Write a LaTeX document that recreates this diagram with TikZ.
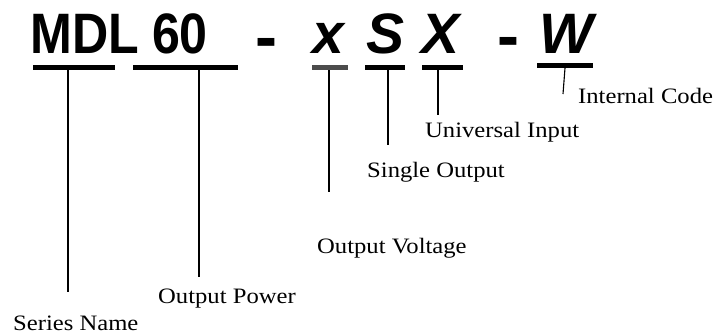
\documentclass[tikz,border=0pt]{standalone}
\usepackage{fontspec}
\setmainfont{Liberation Serif}
\newfontfamily\lblfont[FakeStretch=1.12]{Liberation Serif}
\newfontfamily\hdfont[FakeStretch=0.88]{Liberation Sans}
\newfontfamily\hdbi{Liberation Sans}
\begin{document}
\begin{tikzpicture}[x=1pt,y=-1pt,
  code/.style={anchor=base,inner sep=0pt,font=\hdfont\fontsize{57}{57}\selectfont\bfseries},
  codebi/.style={anchor=base,inner sep=0pt,font=\hdbi\fontsize{57}{57}\selectfont\bfseries\itshape},
  dashc/.style={anchor=base,inner sep=0pt,font=\hdbi\fontsize{66}{66}\selectfont\bfseries},
  bar/.style={fill=black,draw=none},
  lead/.style={line width=1.1pt},
  lbl/.style={anchor=base west,inner sep=0pt,font=\lblfont\fontsize{22}{22}\selectfont}]
\useasboundingbox (0,0) rectangle (727,335);
% code characters
\node[code] (mdl) at (85,53) {MDL};
\node[code] (sixty) at (180,53) {60};
\node[dashc] (d1) at (266.5,59) {-};
\node[codebi] (x) at (328,53) {x};
\node[codebi] (s) at (386,53) {S};
\node[codebi] (bx) at (441,53) {X};
\node[dashc] (d2) at (508.5,58) {-};
\node[codebi] (w) at (566,53) {W};
% underlines
\fill[bar] (33,65) rectangle (115,70);
\fill[bar] (133,65) rectangle (238,70);
\fill[black!70] (312,65) rectangle (348,70);
\fill[bar] (365,65) rectangle (405,70);
\fill[bar] (422,65) rectangle (463,70);
\fill[bar] (537,63) rectangle (593,68);
% labels
\node[lbl] (sn) at (13,330) {Series Name};
\node[lbl] (op) at (158,303) {Output Power};
\node[lbl] (ov) at (317,253) {Output Voltage};
\node[lbl] (so) at (367,177) {Single Output};
\node[lbl] (ui) at (425,137) {Universal Input};
\node[lbl] (ic) at (578,103) {Internal Code};
% leaders
\coordinate (a1) at (68,70);  \coordinate (b1) at (68,292);
\coordinate (a2) at (199,70); \coordinate (b2) at (199,277);
\coordinate (a3) at (329,70); \coordinate (b3) at (329,192);
\coordinate (a4) at (388,70); \coordinate (b4) at (388,145);
\coordinate (a5) at (438,70); \coordinate (b5) at (438,115);
\coordinate (a6) at (565,68); \coordinate (b6) at (563,94);
\draw[lead] (a1) -- (b1);
\draw[lead] (a2) -- (b2);
\draw[lead] (a3) -- (b3);
\draw[lead] (a4) -- (b4);
\draw[lead] (a5) -- (b5);
\draw[lead] (a6) -- (b6);
\end{tikzpicture}
\end{document}
